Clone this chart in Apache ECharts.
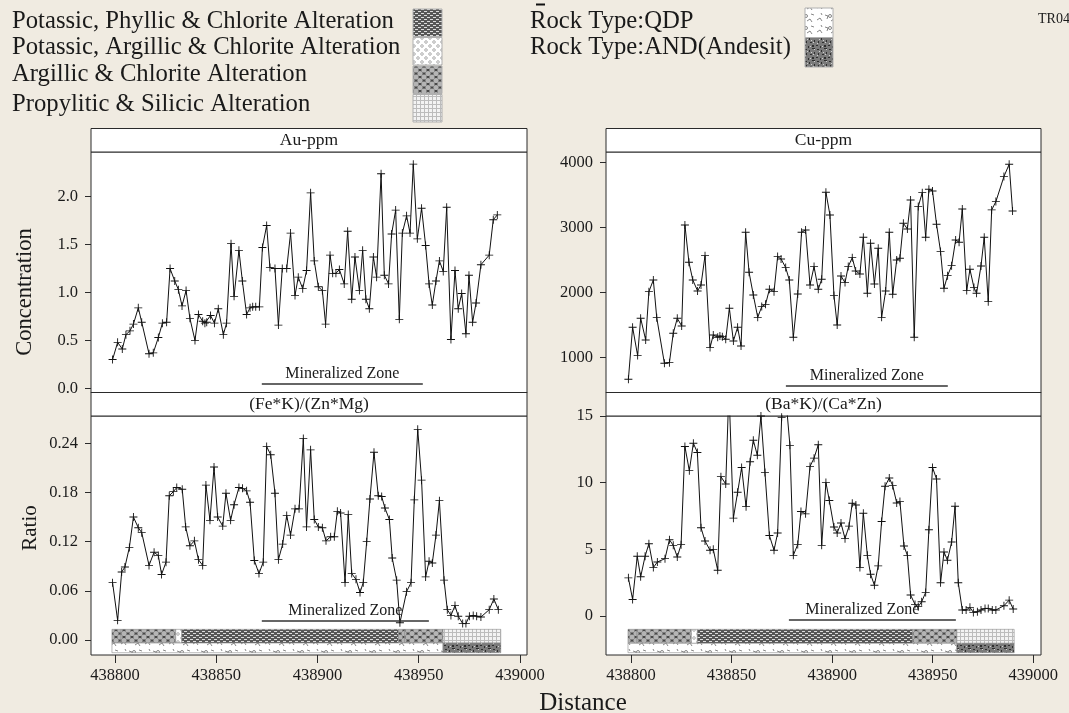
<!DOCTYPE html>
<html>
<head>
<meta charset="utf-8">
<script src="https://cdn.jsdelivr.net/npm/echarts@6/dist/echarts.min.js"></script>
<style>
html, body { margin: 0; padding: 0; background: #f0ebe1; }
#main { width: 1069px; height: 713px; }
</style>
</head>
<body>
<div id="main"></div>
<script>
// ---- data ----
var auDist = [438798.8, 438801.3, 438803.6, 438805.4, 438807.4, 438809.1, 438811.5, 438813.2, 438816.8, 438818.9,
    438821.4, 438823.4, 438825.5, 438827.2, 438829.5, 438831.3, 438833.1, 438835.1, 438837.0, 438839.5,
    438841.2, 438843.3, 438844.4, 438845.3, 438847.2, 438849.1, 438851.0, 438853.5, 438855.1, 438857.3,
    438858.8, 438861.2, 438862.9, 438865.0, 438866.7, 438868.0, 438869.5, 438871.3, 438872.8, 438874.9,
    438876.5, 438879.0, 438880.7, 438882.6, 438884.8, 438886.7, 438888.9, 438890.5, 438892.7, 438894.6,
    438896.6, 438898.4, 438900.4, 438902.4, 438904.0, 438906.2, 438907.5, 438909.1, 438910.8, 438913.2,
    438914.9, 438916.9, 438918.5, 438920.7, 438922.3, 438923.9, 438925.6, 438927.6, 438929.2, 438931.4,
    438933.0, 438935.1, 438936.6, 438938.6, 438940.4, 438941.9, 438944.0, 438945.7, 438947.3, 438949.3,
    438951.4, 438953.4, 438955.1, 438956.7, 438958.5, 438960.2, 438962.1, 438963.8, 438965.9, 438967.9,
    438969.5, 438971.2, 438973.3, 438974.8, 438976.6, 438978.3, 438980.7, 438984.8, 438986.8, 438988.8];
var auVal = [0.30, 0.48, 0.41, 0.56, 0.60, 0.67, 0.84, 0.69, 0.36, 0.37,
    0.53, 0.68, 0.69, 1.25, 1.12, 1.03, 0.86, 1.02, 0.73, 0.50,
    0.77, 0.70, 0.68, 0.69, 0.76, 0.68, 0.83, 0.56, 0.68, 1.51,
    0.96, 1.44, 1.12, 0.77, 0.84, 0.85, 0.85, 0.85, 1.47, 1.70,
    1.26, 1.25, 0.66, 1.25, 1.25, 1.62, 0.97, 1.16, 1.04, 1.23,
    2.04, 1.33, 1.06, 1.02, 0.67, 1.39, 1.20, 1.20, 1.24, 1.09,
    1.64, 0.93, 1.37, 1.02, 1.44, 0.93, 0.83, 1.37, 1.16, 2.24,
    1.18, 1.09, 1.61, 1.86, 0.72, 1.62, 1.80, 1.62, 2.34, 1.56,
    1.88, 1.49, 1.09, 0.87, 1.12, 1.33, 1.22, 1.89, 0.51, 1.23,
    0.83, 0.99, 0.57, 1.18, 0.69, 0.89, 1.29, 1.39, 1.76, 1.81];

var cuDist = [438798.7, 438800.8, 438803.3, 438804.8, 438807.3, 438808.9, 438811.1, 438812.8, 438816.6, 438819.1,
    438821.0, 438823.0, 438825.2, 438826.8, 438828.8, 438830.7, 438833.1, 438834.8, 438836.8, 438839.3,
    438840.9, 438843.1, 438844.2, 438845.4, 438847.1, 438848.9, 438850.9, 438853.0, 438854.7, 438857.0,
    438858.7, 438860.8, 438863.0, 438865.0, 438866.9, 438868.8, 438871.1, 438872.9, 438874.6, 438876.9,
    438878.7, 438880.7, 438882.9, 438884.8, 438886.8, 438889.0, 438891.0, 438893.1, 438894.8, 438896.9,
    438898.9, 438900.9, 438902.5, 438904.4, 438906.4, 438908.0, 438910.0, 438911.7, 438913.8, 438915.5,
    438917.5, 438919.1, 438921.0, 438922.9, 438924.6, 438926.6, 438928.4, 438930.1, 438932.1, 438933.7,
    438935.4, 438937.4, 438939.0, 438940.8, 438942.8, 438944.8, 438946.5, 438948.1, 438949.9, 438951.9,
    438953.9, 438955.6, 438957.4, 438959.4, 438961.4, 438963.1, 438964.7, 438966.9, 438968.5, 438970.5,
    438971.8, 438974.0, 438975.6, 438977.6, 438979.3, 438981.4, 438985.4, 438988.0, 438989.7];
var cuVal = [662, 1462, 1026, 1600, 1267, 2010, 2190, 1610, 908, 918,
    1369, 1600, 1482, 3036, 2462, 2190, 2021, 2113, 2564, 1149,
    1344, 1308, 1328, 1318, 1277, 1754, 1251, 1462, 1174, 2923,
    2308, 1959, 1615, 1780, 1815, 2046, 2010, 2549, 2513, 2380,
    2190, 1308, 1974, 2923, 2959, 2113, 2395, 2046, 2200, 3538,
    3190, 1949, 1497, 2251, 2149, 2395, 2533, 2328, 2282, 2846,
    1985, 2754, 2128, 2677, 1615, 2021, 2923, 1969, 2497, 2523,
    3062, 2974, 3420, 1308, 3318, 3533, 2846, 3585, 3559, 3046,
    2626, 2062, 2256, 2410, 2805, 2769, 3282, 2026, 2354, 2072,
    1985, 2405, 2846, 1856, 3267, 3395, 3780, 3969, 3251];

var feDist = [438798.8, 438801.3, 438803.3, 438804.9, 438807.1, 438809.1, 438811.5, 438813.2, 438816.8, 438819.3,
    438821.4, 438823.0, 438825.2, 438826.8, 438828.8, 438830.5, 438833.2, 438834.9, 438837.0, 438839.2,
    438841.2, 438843.3, 438844.9, 438846.9, 438848.9, 438850.7, 438853.2, 438854.8, 438857.1, 438858.8,
    438861.2, 438863.0, 438865.0, 438866.7, 438868.8, 438871.1, 438873.2, 438874.9, 438876.9, 438879.0,
    438880.7, 438882.8, 438884.8, 438886.7, 438888.9, 438890.9, 438893.0, 438894.6, 438896.6, 438898.4,
    438900.4, 438902.4, 438904.2, 438906.5, 438908.3, 438909.8, 438911.4, 438913.6, 438915.2, 438916.9,
    438919.0, 438921.0, 438922.6, 438924.3, 438925.9, 438927.9, 438930.0, 438931.7, 438933.3, 438935.5,
    438936.9, 438939.1, 438940.7, 438944.0, 438946.2, 438947.8, 438949.5, 438951.4, 438953.4, 438955.1,
    438956.7, 438958.5, 438960.2, 438962.5, 438964.1, 438965.9, 438967.9, 438969.5, 438971.7, 438973.3,
    438975.0, 438976.9, 438978.6, 438980.7, 438984.8, 438987.1, 438989.3];
var feVal = [0.070, 0.024, 0.083, 0.089, 0.113, 0.150, 0.137, 0.131, 0.091, 0.107,
    0.103, 0.080, 0.095, 0.176, 0.181, 0.186, 0.184, 0.138, 0.115, 0.121,
    0.098, 0.091, 0.189, 0.146, 0.211, 0.150, 0.139, 0.179, 0.146, 0.165,
    0.186, 0.185, 0.182, 0.168, 0.097, 0.081, 0.095, 0.236, 0.226, 0.179,
    0.098, 0.117, 0.152, 0.128, 0.160, 0.160, 0.246, 0.138, 0.232, 0.147,
    0.138, 0.137, 0.121, 0.126, 0.126, 0.157, 0.155, 0.070, 0.153, 0.081,
    0.074, 0.058, 0.070, 0.120, 0.172, 0.229, 0.176, 0.175, 0.161, 0.147,
    0.100, 0.073, 0.021, 0.059, 0.070, 0.171, 0.257, 0.195, 0.077, 0.096,
    0.094, 0.128, 0.170, 0.073, 0.037, 0.030, 0.042, 0.029, 0.020, 0.020,
    0.029, 0.030, 0.029, 0.028, 0.037, 0.050, 0.037];

var baDist = [438798.7, 438800.8, 438803.1, 438804.8, 438807.0, 438808.9, 438811.1, 438813.1, 438816.9, 438819.1,
    438821.0, 438823.0, 438824.9, 438826.8, 438829.0, 438831.0, 438833.0, 438834.8, 438836.8, 438839.3,
    438840.9, 438843.1, 438844.7, 438847.1, 438848.7, 438850.9, 438853.0, 438855.0, 438857.2, 438859.2,
    438860.8, 438862.8, 438864.6, 438866.6, 438868.8, 438871.1, 438872.9, 438874.9, 438876.9, 438879.0,
    438880.7, 438882.9, 438884.5, 438886.8, 438889.0, 438891.0, 438893.1, 438894.8, 438896.9, 438898.6,
    438900.9, 438902.5, 438904.4, 438906.4, 438908.4, 438910.0, 438911.8, 438913.8, 438915.5, 438917.5,
    438919.1, 438921.0, 438922.9, 438924.6, 438926.3, 438928.4, 438930.1, 438932.1, 438933.7, 438935.7,
    438937.4, 438939.0, 438941.2, 438942.8, 438944.5, 438946.5, 438948.1, 438949.9, 438951.9, 438953.9,
    438955.6, 438957.3, 438959.4, 438961.1, 438962.7, 438964.7, 438966.6, 438968.5, 438970.2, 438972.2,
    438974.0, 438976.0, 438977.6, 438979.6, 438981.4, 438985.4, 438988.0, 438990.0];
var baVal = [2.86, 1.24, 4.48, 2.94, 4.48, 5.42, 3.63, 4.05, 4.30, 5.72,
    5.30, 4.43, 5.35, 12.71, 10.90, 12.96, 12.26, 6.62, 5.62, 4.93,
    5.00, 3.43, 10.45, 9.90, 17.0, 7.34, 9.28, 11.14, 8.20, 11.57,
    13.18, 12.06, 15.0, 10.77, 6.04, 4.93, 6.22, 14.9, 16.5, 12.80,
    4.55, 5.37, 7.84, 7.66, 11.22, 11.84, 12.84, 5.30, 10.02, 8.66,
    6.67, 6.22, 6.97, 5.80, 6.74, 8.46, 8.33, 3.63, 7.71, 4.55,
    3.13, 2.31, 3.76, 7.09, 9.73, 10.35, 9.78, 8.48, 8.58, 5.25,
    4.55, 1.57, 0.87, 0.70, 1.07, 1.77, 6.47, 11.14, 10.27, 2.49,
    4.80, 4.18, 5.55, 8.23, 2.49, 0.45, 0.45, 0.65, 0.27, 0.32,
    0.45, 0.57, 0.57, 0.45, 0.45, 0.77, 1.19, 0.52];

var xTicks = [438800, 438850, 438900, 438950, 439000];
var auTicks = [0, 0.5, 1.0, 1.5, 2.0];
var cuTicks = [1000, 2000, 3000, 4000];
var feTicks = [0, 0.06, 0.12, 0.18, 0.24];
var baTicks = [0, 5, 10, 15];

// mineralized zone extents, per panel: [from, to, level]
var zoneAu = [438872.5, 438952, 0.045];
var zoneCu = [438877, 438957.5, 558];
var zoneFe = [438872.5, 438955, 0.023];
var zoneBa = [438878.5, 438961.5, -0.30];

// alteration / rock type strips
var alterSegs = [[438798.5, 438803, 'AC'], [438803, 438830, 'AC'], [438830, 438833, 'PAC'],
    [438833, 438940, 'PPC'], [438940, 438943, 'AC'], [438943, 438962, 'AC'], [438962, 438990.5, 'PS']];
var rockSegs = [[438798.5, 438962, 'QDP'], [438962, 438990.5, 'AND']];

var alterNames = ['Potassic, Phyllic & Chlorite Alteration', 'Potassic, Argillic & Chlorite Alteration',
    'Argillic & Chlorite Alteration', 'Propylitic & Silicic Alteration'];
var alterKeys = ['PPC', 'PAC', 'AC', 'PS'];
var rockNames = ['Rock Type:QDP', 'Rock Type:AND(Andesit)'];
var rockKeys = ['QDP', 'AND'];

var serif = "'Liberation Serif', 'Times New Roman', serif";
var ink = '#1a1a1a';

// ---- fill patterns ----
function tile(w, h, draw) {
    var c = document.createElement('canvas');
    c.width = w;
    c.height = h;
    draw(c.getContext('2d'));
    return {image: c, repeat: 'repeat'};
}
var patterns = {
    PPC: tile(6, 4, function (g) {
        g.fillStyle = '#575757'; g.fillRect(0, 0, 6, 4);
        g.fillStyle = '#dcdcdc'; g.fillRect(1, 1, 3, 1); g.fillRect(4, 3, 2, 1); g.fillRect(0, 3, 1, 1);
    }),
    PAC: tile(8, 8, function (g) {
        g.fillStyle = '#ffffff'; g.fillRect(0, 0, 8, 8);
        g.strokeStyle = '#9a9a9a'; g.lineWidth = 0.8;
        g.beginPath(); g.arc(2, 2, 1.3, 0, Math.PI * 2); g.stroke();
        g.beginPath(); g.arc(6, 6, 1.3, 0, Math.PI * 2); g.stroke();
    }),
    AC: tile(8, 7, function (g) {
        g.fillStyle = '#484848'; g.fillRect(0, 0, 8, 7);
        g.fillStyle = '#b4b4b4';
        [[0, 0], [8, 0], [4, 3.5], [0, 7], [8, 7]].forEach(function (p) {
            g.beginPath(); g.arc(p[0], p[1], 2.6, 0, Math.PI * 2); g.fill();
        });
    }),
    PS: tile(4, 4, function (g) {
        g.fillStyle = '#f3f3f3'; g.fillRect(0, 0, 4, 4);
        g.fillStyle = '#bcbcbc'; g.fillRect(0, 0, 4, 1); g.fillRect(0, 0, 1, 4);
    }),
    QDP: tile(24, 12, function (g) {
        g.fillStyle = '#ffffff'; g.fillRect(0, 0, 24, 12);
        g.strokeStyle = '#6a6a6a'; g.lineWidth = 0.8;
        g.beginPath();
        g.moveTo(1, 8); g.lineTo(4, 6); g.lineTo(6, 9);
        g.moveTo(9, 3); g.lineTo(12, 4); g.lineTo(11, 7);
        g.moveTo(15, 9); g.lineTo(18, 7); g.lineTo(20, 10);
        g.moveTo(19, 2); g.lineTo(22, 3);
        g.moveTo(5, 1); g.lineTo(6, 3);
        g.stroke();
        g.beginPath(); g.arc(14, 4, 1.5, 0, Math.PI * 2); g.stroke();
    }),
    AND: tile(12, 12, function (g) {
        g.fillStyle = '#7a7a7a'; g.fillRect(0, 0, 12, 12);
        g.fillStyle = '#2e2e2e';
        [[1, 1, 2, 1], [5, 2, 1, 2], [8, 0, 3, 1], [2, 5, 1, 2], [6, 6, 2, 1], [10, 4, 1, 2],
         [0, 9, 2, 1], [4, 10, 1, 2], [8, 9, 2, 2]].forEach(function (r) { g.fillRect(r[0], r[1], r[2], r[3]); });
        g.fillStyle = '#d0d0d0';
        [[3, 3, 1, 1], [9, 6, 1, 1], [6, 10, 1, 1], [1, 7, 1, 1], [10, 1, 1, 1], [7, 4, 1, 1]].forEach(function (r) {
            g.fillRect(r[0], r[1], r[2], r[3]);
        });
    })
};

// ---- layout ----
var panels = [
    {title: 'Au-ppm', left: 91, top: 152, width: 436, height: 241, xMin: 438788.15, xMax: 439003.46, yMin: -0.049, yMax: 2.4666, ticks: auTicks, dec: 1, bottom: false},
    {title: '(Fe*K)/(Zn*Mg)', left: 91, top: 416, width: 436, height: 239, xMin: 438788.15, xMax: 439003.46, yMin: -0.0183, yMax: 0.2733, ticks: feTicks, dec: 2, bottom: true},
    {title: 'Cu-ppm', left: 606, top: 152, width: 435, height: 241, xMin: 438787.57, xMax: 439003.83, yMin: 451, yMax: 4158, ticks: cuTicks, dec: 0, bottom: false},
    {title: '(Ba*K)/(Ca*Zn)', left: 606, top: 416, width: 435, height: 239, xMin: 438787.57, xMax: 439003.83, yMin: -2.925, yMax: 15, ticks: baTicks, dec: 0, bottom: true}
];
var headH = 23.5;

var grids = [], xAxes = [], yAxes = [], graphics = [];
panels.forEach(function (p, i) {
    grids.push({left: p.left, top: p.top, width: p.width, height: p.height, show: true,
        backgroundColor: '#ffffff', borderColor: '#2a2a2a', borderWidth: 1});
    xAxes.push({type: 'value', gridIndex: i, min: p.xMin, max: p.xMax, position: 'bottom',
        axisLine: {show: false, onZero: false}, splitLine: {show: false},
        axisTick: {show: p.bottom, customValues: xTicks, length: 8, lineStyle: {color: '#2a2a2a'}},
        axisLabel: {show: p.bottom, customValues: xTicks, margin: 12, color: ink, fontFamily: serif, fontSize: 16.5,
            formatter: function (v) { return String(v); }}});
    yAxes.push({type: 'value', gridIndex: i, min: p.yMin, max: p.yMax, position: 'left',
        axisLine: {show: false, onZero: false}, splitLine: {show: false},
        axisTick: {show: true, customValues: p.ticks, length: 6, lineStyle: {color: '#2a2a2a'}},
        axisLabel: {customValues: p.ticks, margin: 13, color: ink, fontFamily: serif, fontSize: 16.5,
            formatter: (function (d) { return function (v) { return v.toFixed(d); }; })(p.dec)}});
    graphics.push({type: 'rect', shape: {x: p.left, y: p.top - headH, width: p.width, height: headH},
        style: {fill: '#ffffff', stroke: '#2a2a2a', lineWidth: 1}});
    graphics.push({type: 'text', x: p.left + p.width / 2, y: p.top - headH / 2,
        style: {text: p.title, fill: ink, font: '17.5px ' + serif, align: 'center', verticalAlign: 'middle'}});
});

function pairs(xs, ys) {
    return xs.map(function (x, i) { return [x, ys[i]]; });
}

function profile(i, xs, ys, zone, labelShift) {
    return {
        type: 'line', xAxisIndex: i, yAxisIndex: i, data: pairs(xs, ys),
        symbol: 'path://M4,0h1v9h-1zM0,4h9v1h-9z', symbolSize: 8, showSymbol: true,
        itemStyle: {color: '#111'}, lineStyle: {color: '#111', width: 1},
        clip: true, silent: true,
        markLine: {
            silent: true, symbol: ['none', 'none'], animation: false,
            lineStyle: {color: '#333', width: 1.5, type: 'solid'},
            label: {show: true, position: 'middle', formatter: 'Mineralized Zone', color: ink,
                fontFamily: serif, fontSize: 16, distance: 2, offset: [labelShift || 0, 0]},
            data: [[{coord: [zone[0], zone[2]]}, {coord: [zone[1], zone[2]]}]]
        }
    };
}

function strip(i, segs, y0, y1) {
    return {
        type: 'custom', xAxisIndex: i, yAxisIndex: i, silent: true, z: 3,
        data: segs.map(function (s) { return [s[0], s[1]]; }),
        renderItem: function (params, api) {
            var a = api.coord([api.value(0), y0]);
            var b = api.coord([api.value(1), y1]);
            return {type: 'rect', shape: {x: a[0], y: a[1], width: b[0] - a[0], height: b[1] - a[1]},
                style: {fill: patterns[segs[params.dataIndex][2]], stroke: '#8c8c8c', lineWidth: 0.6}};
        }
    };
}

// ---- legend, axis titles ----
var legendY = [22, 48, 75, 105];
alterNames.forEach(function (n, k) {
    graphics.push({type: 'text', x: 12, y: legendY[k],
        style: {text: n, fill: ink, font: '24.7px ' + serif, verticalAlign: 'middle'}});
    graphics.push({type: 'rect', shape: {x: 413, y: 9 + k * 28.5, width: 29, height: 27.5},
        style: {fill: patterns[alterKeys[k]], stroke: '#b0b0b0', lineWidth: 1}});
});
rockNames.forEach(function (n, k) {
    graphics.push({type: 'text', x: 530, y: legendY[k],
        style: {text: n, fill: ink, font: '24.7px ' + serif, verticalAlign: 'middle'}});
    graphics.push({type: 'rect', shape: {x: 805, y: 8 + k * 29.5, width: 28, height: 29.5},
        style: {fill: patterns[rockKeys[k]], stroke: '#b0b0b0', lineWidth: 1}});
});
graphics.push({type: 'line', shape: {x1: 536, y1: 4.5, x2: 545, y2: 4.5}, style: {stroke: '#111', lineWidth: 2}});
graphics.push({type: 'text', x: 1054, y: 19,
    style: {text: 'TR04', fill: ink, font: '14px ' + serif, align: 'center', verticalAlign: 'middle'}});
graphics.push({type: 'text', x: 25, y: 292, rotation: Math.PI / 2,
    style: {text: 'Concentration', fill: ink, font: '22.5px ' + serif, align: 'center', verticalAlign: 'middle'}});
graphics.push({type: 'text', x: 30, y: 528, rotation: Math.PI / 2,
    style: {text: 'Ratio', fill: ink, font: '21px ' + serif, align: 'center', verticalAlign: 'middle'}});
graphics.push({type: 'text', x: 583, y: 703,
    style: {text: 'Distance', fill: ink, font: '25px ' + serif, align: 'center', verticalAlign: 'middle'}});

var chart = echarts.init(document.getElementById('main'), null, {renderer: 'canvas'});
chart.setOption({
    backgroundColor: '#f0ebe1',
    animation: false,
    grid: grids,
    xAxis: xAxes,
    yAxis: yAxes,
    graphic: graphics,
    series: [
        profile(0, auDist, auVal, zoneAu, 0),
        profile(1, feDist, feVal, zoneFe, 0),
        profile(2, cuDist, cuVal, zoneCu, 0),
        profile(3, baDist, baVal, zoneBa, -10),
        strip(1, alterSegs, 0.013, -0.0037),
        strip(1, rockSegs, -0.0037, -0.0155),
        strip(3, alterSegs, -1.0, -2.05),
        strip(3, rockSegs, -2.05, -2.75)
    ]
});
</script>
</body>
</html>
